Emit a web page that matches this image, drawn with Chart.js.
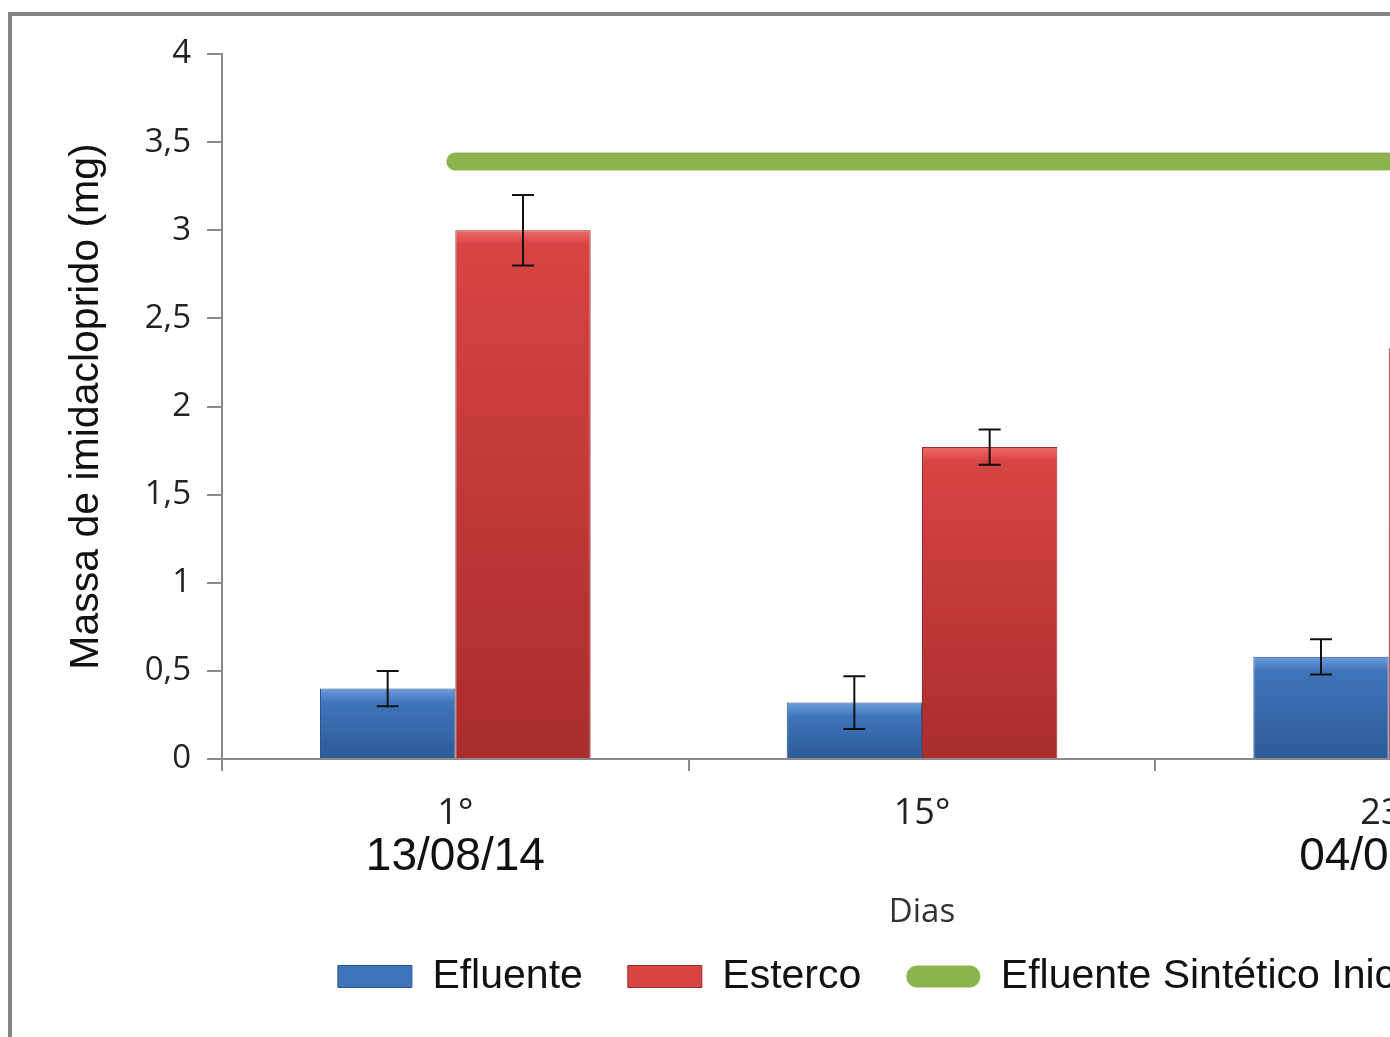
<!DOCTYPE html>
<html>
<head>
<meta charset="utf-8">
<script src="https://cdn.jsdelivr.net/npm/chart.js@4/dist/chart.umd.min.js"></script>
<style>
  body { margin: 0; background: #fff; overflow: hidden; }
  #frame {
    position: absolute; left: 8px; top: 12px;
    width: 1840px; height: 1060px;
    border: 4px solid #858585; background: #fff;
  }
</style>
</head>
<body>
<div id="frame">
  <canvas id="massaChart" width="1840" height="1060"></canvas>
</div>
<script>
// data
var dayLabels = ['1°', '15°', '23°'];
var dateLabels = ['13/08/14', '', '04/09/14'];
var efluenteValues = [0.40, 0.32, 0.58];
var efluenteErrors = [0.10, 0.15, 0.10];
var estercoValues = [3.00, 1.77, 2.33];
var estercoErrors = [0.20, 0.10, 0.15];
var inicialValues = [3.39, 3.39, 3.39];
var yTickLabels = ['0', '0,5', '1', '1,5', '2', '2,5', '3', '3,5', '4'];

var axisGray = '#8a8a8a';

// bevel-ish gradient for each bar, light on top, darker at the base
function barGradient(light, mid, dark) {
  return function (c) {
    var chart = c.chart;
    if (c.type !== 'data' || !chart.chartArea) return mid;
    var y = chart.scales.y;
    var top = y.getPixelForValue(c.raw);
    var bottom = y.getPixelForValue(0);
    var g = chart.ctx.createLinearGradient(0, top, 0, bottom);
    var edge = Math.min(14 / Math.max(bottom - top, 1), 0.4);
    g.addColorStop(0, light);
    g.addColorStop(edge, mid);
    g.addColorStop(1, dark);
    return g;
  };
}

// error bars drawn through the y scale
var errorBars = {
  id: 'errorBars',
  afterDatasetsDraw: function (chart) {
    var ctx = chart.ctx;
    var y = chart.scales.y;
    var errs = [efluenteErrors, estercoErrors];
    ctx.save();
    ctx.strokeStyle = '#111';
    ctx.lineWidth = 2;
    [0, 1].forEach(function (i) {
      var meta = chart.getDatasetMeta(i);
      var values = chart.data.datasets[i].data;
      meta.data.forEach(function (bar, j) {
        var hi = y.getPixelForValue(values[j] + errs[i][j]);
        var lo = y.getPixelForValue(values[j] - errs[i][j]);
        ctx.beginPath();
        ctx.moveTo(bar.x, hi); ctx.lineTo(bar.x, lo);
        ctx.moveTo(bar.x - 11, hi); ctx.lineTo(bar.x + 11, hi);
        ctx.moveTo(bar.x - 11, lo); ctx.lineTo(bar.x + 11, lo);
        ctx.stroke();
      });
    });
    ctx.restore();
  }
};

// nudge the legend so it sits where the original one does
var legendOffset = {
  id: 'legendOffset',
  afterLayout: function (chart) {
    var l = chart.legend;
    var dx = 70, dy = -21;
    l.left += dx; l.right += dx;
    l.top += dy; l.bottom += dy;
  }
};

var ctx = document.getElementById('massaChart').getContext('2d');
var massaChart = new Chart(ctx, {
  type: 'bar',
  data: {
    labels: dayLabels,
    datasets: [
      {
        label: 'Efluente',
        data: efluenteValues,
        backgroundColor: barGradient('#6d9fdc', '#3f74bb', '#2d5a98'),
        borderColor: '#2b5490',
        borderWidth: 1,
        categoryPercentage: 0.58,
        barPercentage: 1
      },
      {
        label: 'Esterco',
        data: estercoValues,
        backgroundColor: barGradient('#ee6a6a', '#d84444', '#a92d2d'),
        borderColor: '#9a2a2a',
        borderWidth: 1,
        categoryPercentage: 0.58,
        barPercentage: 1
      },
      {
        type: 'line',
        label: 'Efluente Sintético Inicial',
        data: inicialValues,
        borderColor: '#8db34e',
        backgroundColor: '#8db34e',
        borderWidth: 18,
        borderCapStyle: 'round',
        pointRadius: 0,
        fill: false
      }
    ]
  },
  options: {
    responsive: false,
    animation: false,
    layout: {
      padding: { left: 0, top: 38, right: 230, bottom: 48 }
    },
    scales: {
      x: {
        weight: 0,
        border: { color: axisGray, width: 2 },
        grid: { display: true, drawOnChartArea: false, offset: true, tickLength: 12, color: axisGray, lineWidth: 2 },
        ticks: { color: '#222', padding: 25, font: { family: '"Open Sans"', size: 36, lineHeight: 1 } },
        afterFit: function (scale) { scale.height = 68; }
      },
      x2: {
        type: 'category',
        labels: dateLabels,
        position: 'bottom',
        weight: 1,
        offset: true,
        border: { display: false },
        grid: { display: false, drawTicks: false },
        ticks: { color: '#111', padding: 7, font: { family: '"Liberation Sans"', size: 46, lineHeight: 1 } },
        title: {
          display: true,
          text: 'Dias',
          color: '#333',
          padding: { top: 0, bottom: 0 },
          font: { family: '"Open Sans"', size: 33 }
        },
        afterFit: function (scale) { scale.height = 105; }
      },
      y: {
        min: 0,
        max: 4,
        border: { color: axisGray, width: 2 },
        grid: { drawOnChartArea: false, tickLength: 15, color: axisGray, lineWidth: 2 },
        ticks: {
          stepSize: 0.5,
          padding: 16,
          color: '#222',
          font: { family: '"Open Sans"', size: 33 },
          callback: function (value, index) { return yTickLabels[index]; }
        },
        title: {
          display: true,
          text: 'Massa de imidacloprido (mg)',
          color: '#111',
          padding: { top: 50, bottom: 0 },
          font: { family: '"Liberation Sans"', size: 41 }
        },
        afterFit: function (scale) { scale.width = 210; }
      }
    },
    plugins: {
      legend: {
        position: 'bottom',
        labels: {
          color: '#111',
          boxWidth: 74,
          boxHeight: 22,
          padding: 45,
          useBorderRadius: true,
          font: { family: '"Liberation Sans"', size: 41 },
          generateLabels: function (chart) {
            var items = Chart.defaults.plugins.legend.labels.generateLabels(chart);
            var fills = ['#3f74bb', '#d84444', '#8db34e'];
            var strokes = ['#2b5490', '#9a2a2a', '#8db34e'];
            items.forEach(function (item, i) {
              item.fillStyle = fills[i];
              item.strokeStyle = strokes[i];
              item.lineWidth = i === 2 ? 0 : 1;
              item.borderRadius = i === 2 ? 11 : 0;
            });
            return items;
          }
        }
      },
      tooltip: { enabled: false }
    }
  },
  plugins: [errorBars, legendOffset]
});
</script>
</body>
</html>
